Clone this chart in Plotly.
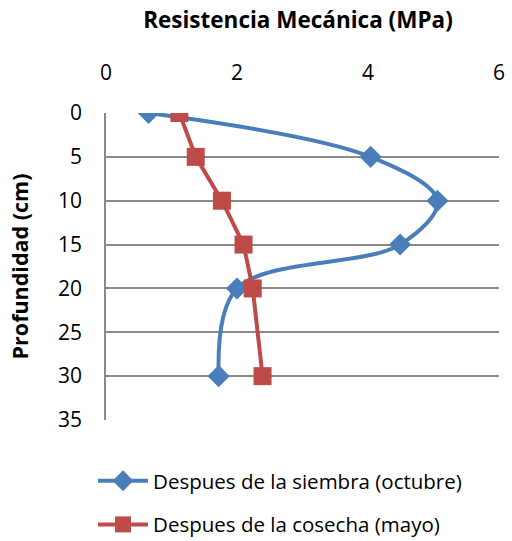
import plotly.graph_objects as go

# Penetration resistance profiles by soil depth
depth_cm = [0, 5, 10, 15, 20, 30]
siembra_mpa = [0.65, 4.04, 5.06, 4.49, 2.0, 1.72]
cosecha_mpa = [1.12, 1.37, 1.77, 2.10, 2.24, 2.39]

x_ticks = [0, 2, 4, 6]
y_ticks = [0, 5, 10, 15, 20, 25, 30, 35]

FONT = "Open Sans, Liberation Sans, Arial, sans-serif"
BLUE = "#4A7EBB"
RED = "#BE4B48"
GRID = "#8A8A8A"

fig = go.Figure()
fig.add_trace(go.Scatter(
    x=siembra_mpa, y=depth_cm, mode="lines+markers",
    name="Despues de la siembra (octubre)", legendgroup="a",
    line=dict(color=BLUE, width=4, shape="spline", smoothing=1.0),
    marker=dict(symbol="diamond", size=17, color=BLUE),
))
fig.add_trace(go.Scatter(
    x=cosecha_mpa, y=depth_cm, mode="lines+markers",
    name="Despues de la cosecha (mayo)", legendgroup="b",
    line=dict(color=RED, width=4),
    marker=dict(symbol="square", size=18, color=RED),
))

fig.update_layout(
    width=512, height=541,
    margin=dict(l=106, r=7, t=113, b=121),
    paper_bgcolor="white", plot_bgcolor="white",
    font=dict(family=FONT, size=20, color="black"),
    title=dict(text="<b>Resistencia Mecánica (MPa)</b>", x=0.582, xanchor="center",
               y=0.962, yanchor="middle", font=dict(size=22.5)),
    xaxis=dict(side="top", range=[0, 6], tickvals=x_ticks, showgrid=False,
               zeroline=False, showline=False, ticks="", ticklabelstandoff=28,
               tickfont=dict(size=21)),
    yaxis=dict(range=[35, 0], tickvals=y_ticks, showgrid=True, gridcolor=GRID,
               gridwidth=1.5, zeroline=False, showline=True, linecolor=GRID,
               linewidth=1.5, ticks="", ticklabelstandoff=18,
               tickfont=dict(size=21),
               title=dict(text="<b>Profundidad (cm)</b>", font=dict(size=21.5),
                          standoff=24)),
    legend=dict(x=-0.033, xanchor="left", xref="paper",
                y=0.148, yanchor="top", yref="container",
                tracegroupgap=14, font=dict(size=20.5), itemwidth=50,
                bgcolor="rgba(0,0,0,0)"),
    showlegend=True,
)

fig.write_html("out.html")
